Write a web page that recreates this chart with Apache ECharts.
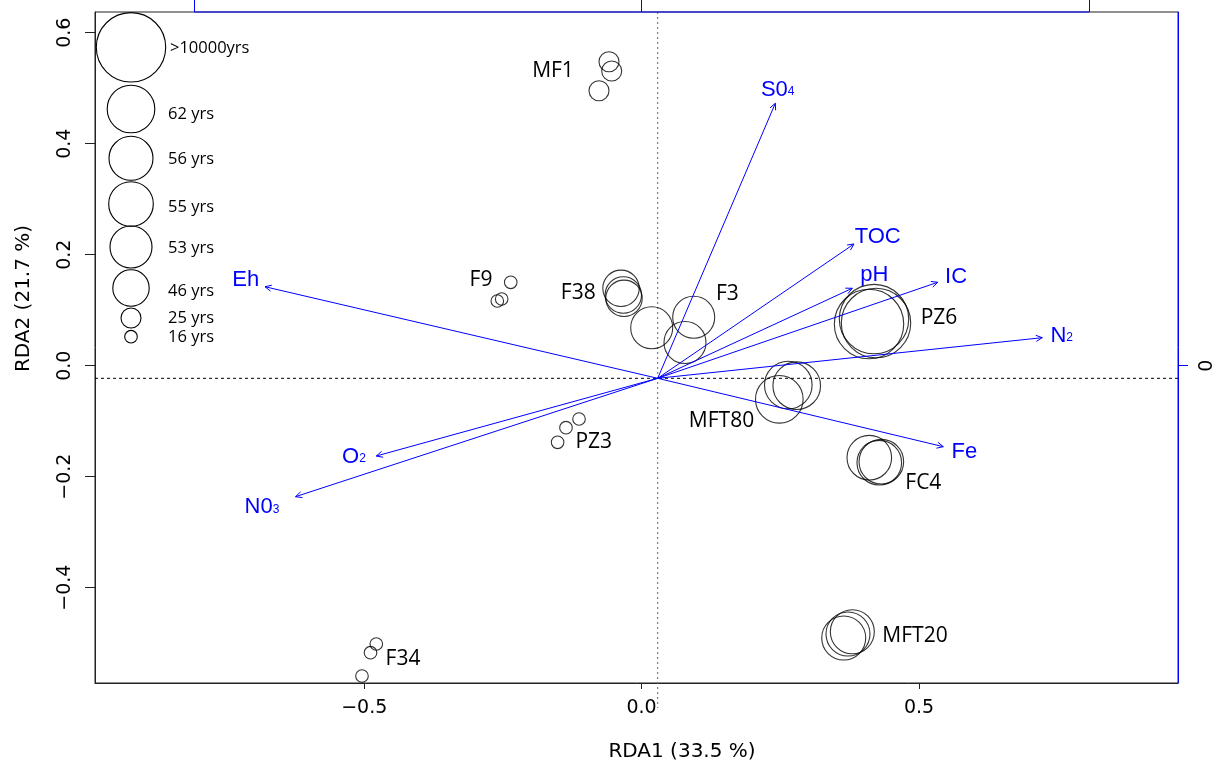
<!DOCTYPE html>
<html><head><meta charset="utf-8">
<script src="https://cdn.jsdelivr.net/npm/echarts@6/dist/echarts.min.js"></script>
<style>html,body{margin:0;padding:0;background:#fff}#c{width:1220px;height:762px}</style>
</head><body><div id="c"></div>
<script>
// ---------------- DATA ----------------
const xAxisTitle = 'RDA1 (33.5 %)';
const yAxisTitle = 'RDA2 (21.7 %)';
const xRange = [-0.9852, 0.9668];
const yRange = [-0.5717, 0.6373];
const xTicks = [-0.5, 0, 0.5];
const yTicks = [-0.4, -0.2, 0, 0.2, 0.4, 0.6];
const biplotTicks = [-1, 0, 1];
const biplotMult = 0.8066;

const ageClasses = ['>10000yrs', '62 yrs', '56 yrs', '55 yrs', '53 yrs', '46 yrs', '25 yrs', '16 yrs'];

const siteNames = ['MF1', 'F9', 'F38', 'F3', 'PZ6', 'MFT80', 'FC4', 'MFT20', 'F34', 'PZ3'];
const siteAge   = ['25 yrs', '16 yrs', '46 yrs', '53 yrs', '>10000yrs', '62 yrs', '55 yrs', '56 yrs', '16 yrs', '16 yrs'];
const siteLabelRDA1 = [-0.1597, -0.2895, -0.1141, 0.1545, 0.5360, 0.1440, 0.5078, 0.4928, -0.4301, -0.0862];
const siteLabelRDA2 = [0.5315, 0.1544, 0.1305, 0.1286, 0.0854, -0.0991, -0.2119, -0.4865, -0.5290, -0.1369];

const sampleSite = ['MF1','MF1','MF1','F9','F9','F9','F38','F38','F38','F3','F3','F3',
                    'PZ6','PZ6','PZ6','MFT80','MFT80','MFT80','FC4','FC4','FC4',
                    'MFT20','MFT20','MFT20','F34','F34','F34','PZ3','PZ3','PZ3'];
const sampleRDA1 = [-0.0588, -0.0539, -0.0768, -0.2359, -0.2601, -0.2522, -0.0371, -0.0330, -0.0317,
                    0.0182, 0.0939, 0.0782, 0.4099, 0.4189, 0.4225, 0.2796, 0.2644, 0.2482,
                    0.4104, 0.4284, 0.4321, 0.3643, 0.3720, 0.3798, -0.4782, -0.4886, -0.5040,
                    -0.1128, -0.1363, -0.1514];
const sampleRDA2 = [0.5477, 0.5310, 0.4955, 0.1503, 0.1166, 0.1202, 0.1395, 0.1274, 0.1214,
                    0.0685, 0.0872, 0.0418, 0.0751, 0.0841, 0.0769, -0.0360, -0.0348, -0.0605,
                    -0.1658, -0.1748, -0.1730, -0.4906, -0.4834, -0.4793, -0.5014, -0.5171, -0.5591,
                    -0.0960, -0.1117, -0.1380];

const arrowOrigin = [0.029, -0.0227];
const envMain = ['S0', 'TOC', 'pH', 'IC', 'N', 'Fe', 'Eh', 'O', 'N0'];
const envSub  = ['4', '', '', '', '2', '', '', '2', '3'];
const envRDA1 = [0.2410, 0.3828, 0.3798, 0.5337, 0.7222, 0.5438, -0.6788, -0.4782, -0.6238];
const envRDA2 = [0.4728, 0.2193, 0.1395, 0.1503, 0.0505, -0.1459, 0.1423, -0.1627, -0.2360];
const envLabelRDA1 = [0.2453, 0.4256, 0.4194, 0.5667, 0.7572, 0.5817, -0.7136, -0.5184, -0.6842];
const envLabelRDA2 = [0.4969, 0.2324, 0.1634, 0.1604, 0.0535, -0.1560, 0.1544, -0.1640, -0.2551];

// ---------------- STYLE / LAYOUT ----------------
const BLUE = '#0000ff';
const INK = '#000000';
const AGE_DIAM = {'>10000yrs': 69.4, '62 yrs': 47.6, '56 yrs': 44, '55 yrs': 44.6, '53 yrs': 42, '46 yrs': 36.4, '25 yrs': 20, '16 yrs': 12.6};
const LEGEND_CX = 131, LEGEND_TX = 168;
const LEGEND_Y = [47.3, 109, 158.3, 204, 247, 288, 318, 336.7];
const LEGEND_TY = [48, 114, 159, 207, 248, 291, 318, 337];
const PX_X = 554.8, PX_Y = 555; // px per data unit (for line overhang only)

function fmt(v) {
  const s = Math.abs(v).toFixed(1);
  return v < -1e-9 ? '\u2212' + s : s;
}

const chart = echarts.init(document.getElementById('c'), null, {renderer: 'canvas'});

const legendGraphics = [];
ageClasses.forEach((a, i) => {
  legendGraphics.push({
    type: 'circle', shape: {cx: LEGEND_CX, cy: LEGEND_Y[i], r: AGE_DIAM[a] / 2},
    style: {fill: null, stroke: INK, lineWidth: 1.1}, z: 10
  });
  legendGraphics.push({
    type: 'text', x: (i === 0 ? LEGEND_TX + 2 : LEGEND_TX), y: LEGEND_TY[i],
    style: {text: a, fill: '#000', fontSize: 16.5, fontFamily: '"Open Sans"', align: 'left', verticalAlign: 'middle',
            textAlign: 'left', textVerticalAlign: 'middle'}, z: 10
  });
});

const rightTicks = biplotTicks.map(t => t * biplotMult).filter(v => v >= yRange[0] && v <= yRange[1]);

const option = {
  animation: false,
  backgroundColor: '#fff',
  grid: {left: 95, right: 42, top: 12, bottom: 79, show: true, borderColor: '#222', borderWidth: 1,
         backgroundColor: 'transparent', containLabel: false, outerBoundsMode: 'none'},
  xAxis: [{
    type: 'value', position: 'bottom', min: xRange[0], max: xRange[1],
    name: xAxisTitle, nameLocation: 'middle', nameGap: 59,
    nameTextStyle: {fontSize: 20, fontFamily: '"DejaVu Sans"', color: '#000', padding: [0, 0, 0, 91]},
    axisLine: {show: true, onZero: false, lineStyle: {color: '#222', width: 1}},
    axisTick: {show: true, customValues: xTicks, length: 6, lineStyle: {color: '#222'}},
    axisLabel: {show: true, customValues: xTicks, formatter: fmt, fontSize: 19, fontFamily: '"DejaVu Sans"', color: '#000', margin: 16},
    splitLine: {show: false}
  }, {
    type: 'value', position: 'top', min: xRange[0], max: xRange[1],
    axisLine: {show: false, onZero: false},
    axisTick: {show: true, customValues: biplotTicks.map(t => t * biplotMult), length: 14, lineStyle: {color: BLUE}},
    axisLabel: {show: false},
    splitLine: {show: false}
  }],
  yAxis: [{
    type: 'value', position: 'left', min: yRange[0], max: yRange[1],
    name: yAxisTitle, nameLocation: 'middle', nameGap: 61, nameRotate: 90,
    nameTextStyle: {fontSize: 20, fontFamily: '"DejaVu Sans"', color: '#000', padding: [0, 0, 0, 98]},
    axisLine: {show: true, onZero: false, lineStyle: {color: '#222', width: 1}},
    axisTick: {show: true, customValues: yTicks, length: 10, lineStyle: {color: '#222'}},
    axisLabel: {show: true, customValues: yTicks, formatter: fmt, rotate: 90, fontSize: 19, fontFamily: '"DejaVu Sans"', color: '#000', margin: 20},
    splitLine: {show: false}
  }, {
    type: 'value', position: 'right', min: yRange[0], max: yRange[1],
    axisLine: {show: true, onZero: false, lineStyle: {color: BLUE, width: 1}},
    axisTick: {show: true, customValues: rightTicks, length: 10, lineStyle: {color: BLUE}},
    axisLabel: {show: true, customValues: rightTicks,
                formatter: v => String(Math.round(v / biplotMult)), rotate: 90, fontSize: 19, fontFamily: '"DejaVu Sans"', color: '#000', margin: 20},
    splitLine: {show: false}
  }],
  graphic: legendGraphics,
  series: [
    {
      type: 'line', xAxisIndex: 0, yAxisIndex: 0, clip: false, symbol: 'none', silent: true, z: 4,
      data: [[biplotTicks[0] * biplotMult, yRange[1]], [biplotTicks[2] * biplotMult, yRange[1]]],
      lineStyle: {color: BLUE, width: 1}
    },
    {
      type: 'line', xAxisIndex: 0, yAxisIndex: 0, clip: false, symbol: 'none', silent: true, z: 1,
      data: [[xRange[0], arrowOrigin[1]], [xRange[1] + 30 / PX_X, arrowOrigin[1]]],
      lineStyle: {color: '#000', width: 1, type: [3, 3]}
    },
    {
      type: 'line', xAxisIndex: 0, yAxisIndex: 0, clip: false, symbol: 'none', silent: true, z: 1,
      data: [[arrowOrigin[0], yRange[1]], [arrowOrigin[0], yRange[0] - 25 / PX_Y]],
      lineStyle: {color: '#666', width: 1, type: [2, 3]}
    },
    {
      type: 'scatter', xAxisIndex: 0, yAxisIndex: 0, symbol: 'circle', silent: true, z: 2,
      data: sampleRDA1.map((x, i) => [x, sampleRDA2[i]]),
      symbolSize: (val, p) => AGE_DIAM[siteAge[siteNames.indexOf(sampleSite[p.dataIndex])]],
      itemStyle: {color: 'rgba(0,0,0,0)', borderColor: INK, borderWidth: 1.1}
    },
    {
      type: 'custom', xAxisIndex: 0, yAxisIndex: 0, silent: true, z: 3,
      data: envRDA1.map((x, i) => [arrowOrigin[0], arrowOrigin[1], x, envRDA2[i]]),
      encode: {x: [0, 2], y: [1, 3]},
      renderItem: (params, api) => {
        const a = api.coord([api.value(0), api.value(1)]);
        const b = api.coord([api.value(2), api.value(3)]);
        const ang = Math.atan2(b[1] - a[1], b[0] - a[0]);
        const L = 7, t = 0.45;
        const h1 = [b[0] - L * Math.cos(ang - t), b[1] - L * Math.sin(ang - t)];
        const h2 = [b[0] - L * Math.cos(ang + t), b[1] - L * Math.sin(ang + t)];
        return {type: 'group', children: [
          {type: 'line', shape: {x1: a[0], y1: a[1], x2: b[0], y2: b[1]}, style: {stroke: BLUE, lineWidth: 1}},
          {type: 'polyline', shape: {points: [h1, b, h2]}, style: {stroke: BLUE, fill: null, lineWidth: 1}}
        ]};
      }
    },
    {
      type: 'custom', xAxisIndex: 0, yAxisIndex: 0, silent: true, z: 5,
      data: envLabelRDA1.map((x, i) => [x, envLabelRDA2[i]]),
      encode: {x: 0, y: 1},
      renderItem: (params, api) => {
        const p = api.coord([api.value(0), api.value(1)]);
        const i = params.dataIndex;
        const txt = '{m|' + envMain[i] + '}' + (envSub[i] ? '{s|' + envSub[i] + '}' : '');
        return {type: 'text', x: p[0], y: p[1], style: {
          text: txt, align: 'center', verticalAlign: 'middle',
          rich: {
            m: {fontSize: 22, fontFamily: '"Liberation Sans"', fill: BLUE, verticalAlign: 'bottom'},
            s: {fontSize: 12, fontFamily: '"Liberation Sans"', fill: BLUE, verticalAlign: 'bottom', padding: [0, 0, 3, 0]}
          }
        }};
      }
    },
    {
      type: 'custom', xAxisIndex: 0, yAxisIndex: 0, silent: true, z: 5,
      data: siteLabelRDA1.map((x, i) => [x, siteLabelRDA2[i]]),
      encode: {x: 0, y: 1},
      renderItem: (params, api) => {
        const p = api.coord([api.value(0), api.value(1)]);
        return {type: 'text', x: p[0], y: p[1], style: {
          text: siteNames[params.dataIndex], fill: '#000', fontSize: 21, fontFamily: '"Open Sans"',
          align: 'center', verticalAlign: 'middle'
        }};
      }
    }
  ]
};
chart.setOption(option);
</script></body></html>
